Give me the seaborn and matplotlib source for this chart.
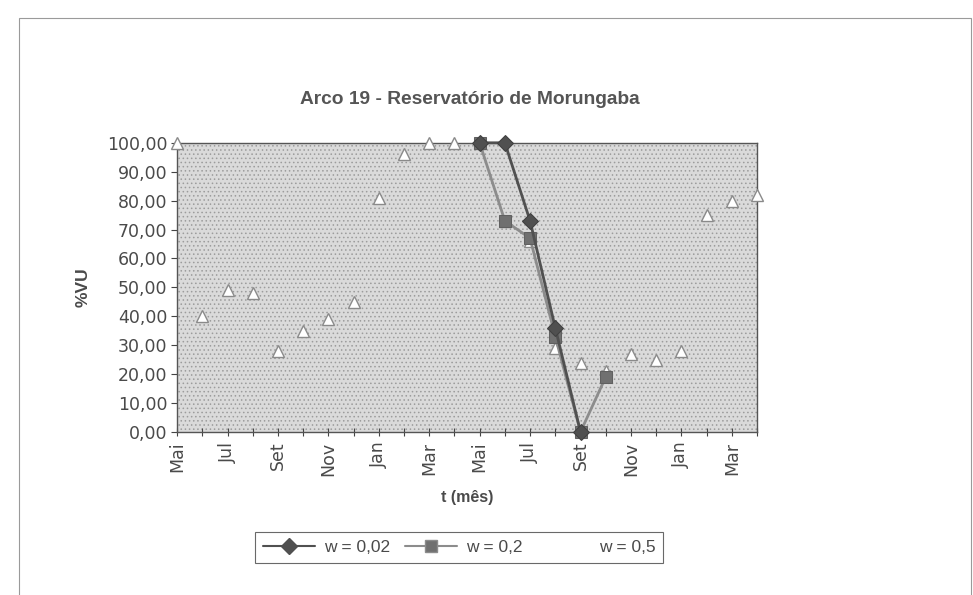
import numpy as np
import matplotlib.pyplot as plt
import seaborn as sns
from matplotlib.lines import Line2D
from matplotlib.patches import Rectangle

nan = np.nan

# months from Mai (year 1) to Abr (year 3)
months = ['Mai', 'Jun', 'Jul', 'Ago', 'Set', 'Out', 'Nov', 'Dez', 'Jan', 'Fev', 'Mar', 'Abr'] * 2

# %VU per series
w_002 = [nan] * 12 + [100, 100, 73, 36, 0] + [nan] * 7
w_02 = [nan] * 12 + [100, 73, 67, 33, 0, 19] + [nan] * 6
w_05 = [100, 40, 49, 48, 28, 35, 39, 45, 81, 96, 100, 100,
        100, 73, 66, 29, 24, 21, 27, 25, 28, 75, 80, 82]

series_labels = ['w = 0,02', 'w = 0,2', 'w = 0,5']

sns.set_theme(style='white')
plt.rcParams['font.family'] = ['Liberation Sans', 'DejaVu Sans']
plt.rcParams['hatch.linewidth'] = 0.6

txt = '#4a4a4a'
wide = ['DejaVu Sans']  # the scanned tick labels are wide

fig = plt.figure(figsize=(9.73, 5.95), dpi=100)
ax = fig.add_axes([0.182, 0.274, 0.596, 0.486])

# stippled grey plot area like the scan
ax.set_facecolor('#dadada')
ax.add_patch(Rectangle((0, 0), 1, 1, transform=ax.transAxes, facecolor='none',
                       edgecolor='#9c9c9c', hatch='....', lw=0, zorder=0))

x = np.arange(len(months))

sns.lineplot(x=x, y=w_05, ax=ax, linestyle='none', marker='^', markersize=9,
             markerfacecolor='white', markeredgecolor='#8a8a8a', markeredgewidth=1,
             zorder=3, clip_on=False)
sns.lineplot(x=x, y=w_02, ax=ax, color='#8c8c8c', lw=2, marker='s', markersize=8,
             markerfacecolor='#707070', markeredgecolor='#606060', zorder=4,
             clip_on=False)
sns.lineplot(x=x, y=w_002, ax=ax, color='#505050', lw=2, marker='D', markersize=8,
             markerfacecolor='#505050', markeredgecolor='#404040', zorder=5,
             clip_on=False)

ax.set_xlim(0, len(months) - 1)
ax.set_ylim(0, 100)

ax.set_xticks(x[::2])
ax.set_xticklabels(months[::2], rotation=90, fontsize=12.5, color=txt, family=wide)
ax.set_xticks(x, minor=True)
ax.tick_params(axis='x', which='both', direction='inout', length=6, width=0.8,
               color='#444444', bottom=True, pad=4)

yt = np.arange(0, 101, 10)
ax.set_yticks(yt)
ax.set_yticklabels([f"{v:.2f}".replace('.', ',') for v in yt], fontsize=12.5,
                   color=txt, family=wide)
ax.tick_params(axis='y', direction='out', length=4, width=0.8, color='#444444',
               left=True, pad=3)

for side in ['left', 'bottom', 'top', 'right']:
    ax.spines[side].set_visible(True)
    ax.spines[side].set_color('#555555')
    ax.spines[side].set_linewidth(1)

ax.set_xlabel('t (mês)', fontsize=11.5, fontweight='bold', color=txt, labelpad=10)
ax.set_ylabel('%VU', fontsize=12.5, fontweight='bold', color=txt, labelpad=12)

fig.text(0.483, 0.832, 'Arco 19 - Reservatório de Morungaba', ha='center', va='center',
         fontsize=13.75, fontweight='bold', color='#555555')

handles = [
    Line2D([], [], color='#505050', lw=1.5, marker='D', markersize=8,
           markerfacecolor='#505050'),
    Line2D([], [], color='#8c8c8c', lw=1.5, marker='s', markersize=8,
           markerfacecolor='#707070'),
    Line2D([], [], color='white', lw=1.5, marker='^', markersize=8,
           markerfacecolor='white', markeredgecolor='white'),
]
leg = fig.legend(handles, series_labels, loc='center', bbox_to_anchor=(0.472, 0.0795),
                 ncol=3, frameon=True, fancybox=False, edgecolor='#444444',
                 fontsize=12.5, handlelength=3, handletextpad=0.5, columnspacing=0.9,
                 borderpad=0.45, borderaxespad=0)
leg.get_frame().set_linewidth(0.8)
for t in leg.get_texts():
    t.set_color(txt)

# outer chart frame
fig.add_artist(Rectangle((0.02, -0.01), 0.978, 0.98, transform=fig.transFigure,
                         fill=False, edgecolor='#9a9a9a', lw=0.8))

fig.savefig('out.png', dpi=100)
